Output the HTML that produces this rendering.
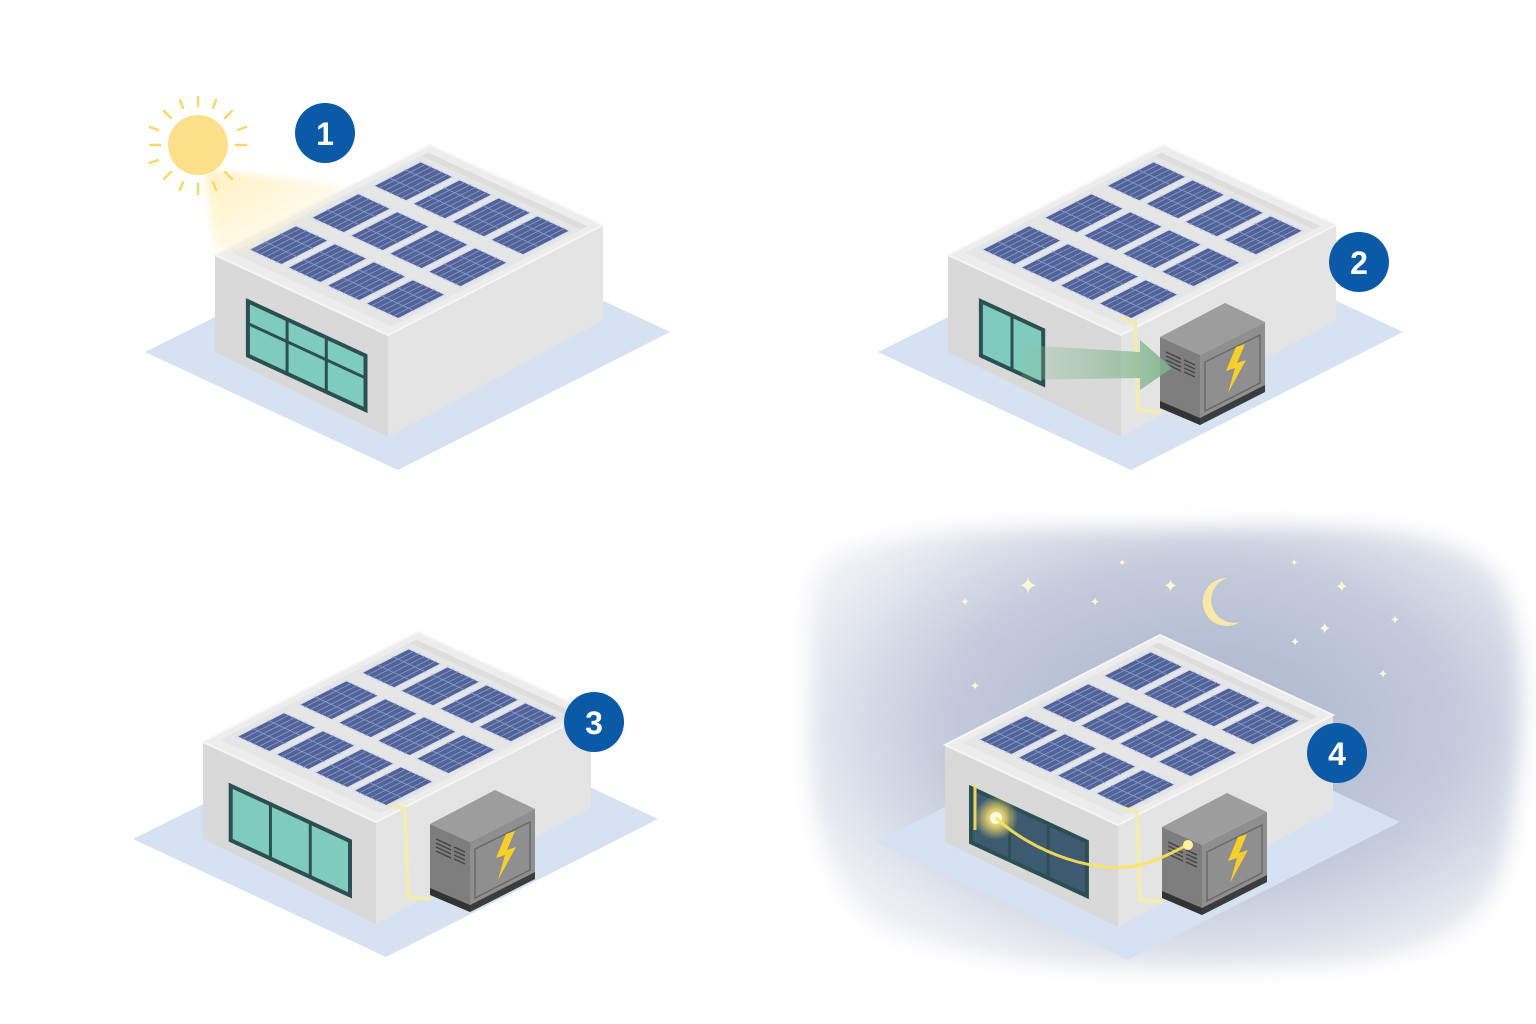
<!DOCTYPE html>
<html><head><meta charset="utf-8"><style>
html,body{margin:0;padding:0;background:#fff;width:1536px;height:1024px;overflow:hidden}
svg{display:block}
</style></head><body>
<svg id="s" width="1536" height="1024" viewBox="0 0 1536 1024" xmlns="http://www.w3.org/2000/svg">
<defs>
<radialGradient id="night" cx="0.55" cy="0.45" r="0.6">
<stop offset="0" stop-color="#a9b3cc"/><stop offset="0.6" stop-color="#c3cadb"/><stop offset="1" stop-color="#eef0f5"/>
</radialGradient>
<filter id="blur" x="-10%" y="-10%" width="120%" height="120%"><feGaussianBlur stdDeviation="10"/></filter>
<filter id="b4"><feGaussianBlur stdDeviation="4"/></filter>
<radialGradient id="glow"><stop offset="0" stop-color="#fff7c0"/><stop offset="0.4" stop-color="#ffe36a" stop-opacity="0.8"/><stop offset="1" stop-color="#ffe36a" stop-opacity="0"/></radialGradient>
<linearGradient id="beam" x1="0" y1="0" x2="1" y2="1"><stop offset="0" stop-color="#ffe9a0" stop-opacity="0.9"/><stop offset="1" stop-color="#fff6d8" stop-opacity="0.2"/></linearGradient>
<linearGradient id="arrow" x1="0" y1="0" x2="1" y2="0"><stop offset="0" stop-color="#8fc19b" stop-opacity="0.2"/><stop offset="1" stop-color="#7fb38c" stop-opacity="0.9"/></linearGradient>
</defs>
<path d="M830,560 C900,520 1050,530 1180,528 C1320,526 1460,520 1500,580 C1535,650 1520,760 1510,830 C1500,920 1440,960 1320,965 C1150,975 980,970 890,930 C820,895 805,800 810,700 C812,640 800,590 830,560Z" fill="url(#night)" filter="url(#blur)"/>
<g id="g"></g>
</svg>
<script>
var g=document.getElementById('g'),out='';
function P(a){return a.map(function(p){return p[0].toFixed(1)+','+p[1].toFixed(1)}).join(' ')}
function poly(a,f,extra){out+='<polygon points="'+P(a)+'" fill="'+f+'" '+(extra||'')+'/>';}
function bld(ox,oy,o){
 function T(x,y){return [x+ox,y+oy]}
 poly([T(145,352),T(420,215),T(670,332),T(398,470)],'#d6e2f1');
 var back=[430,145],U=[173,80],V=[-215,110];
 function R(u,v){return T(back[0]+u*U[0]+v*V[0],back[1]+u*U[1]+v*V[1])}
 poly([T(215,255),T(388,335),T(388,437),T(215,352)],'#d9d9d9');
 poly([T(388,335),T(603,225),T(603,320),T(388,437)],'#e4e4e4');
 poly([R(0,0),R(1,0),R(1,1),R(0,1)],'#ededed','stroke="#f6f6f6" stroke-width="2"');
 poly([R(0.04,0.04),R(0.96,0.04),R(0.96,0.95),R(0.04,0.95)],'#dedede');
 poly([R(0.04,0.07),R(0.96,0.07),R(0.96,0.95),R(0.04,0.95)],'#e6e6e6');
 for(var r=0;r<3;r++){for(var c=0;c<4;c++){
  var v0=0.10+r*0.29,v1=v0+0.22,u0=0.07+c*0.225,u1=u0+0.19;
  poly([R(u0,v0),R(u1,v0),R(u1,v1),R(u0,v1)],'#52639a','stroke="#d8dff0" stroke-width="1.5"');
  for(var i=1;i<6;i++){var u=u0+(u1-u0)*i/6,a=R(u,v0),b=R(u,v1);out+='<line x1="'+a[0]+'" y1="'+a[1]+'" x2="'+b[0]+'" y2="'+b[1]+'" stroke="#8c9cc8" stroke-width="0.8"/>';}
  for(var j=1;j<3;j++){var v=v0+(v1-v0)*j/3,a=R(u0,v),b=R(u1,v);out+='<line x1="'+a[0]+'" y1="'+a[1]+'" x2="'+b[0]+'" y2="'+b[1]+'" stroke="#8c9cc8" stroke-width="0.8"/>';}
 }}
 function W(s,t){return T(215+s*173,255+s*80+t*97)}
 var s0=o.w[0],s1=o.w[1];
 poly([W(s0,0.32),W(s1,0.32),W(s1,0.88),W(s0,0.88)],o.night?'#3d5a70':'#7fcbbd','stroke="#2b4f52" stroke-width="4"');
 var n=o.w[2];
 for(var k=1;k<n;k++){var s=s0+(s1-s0)*k/n,a=W(s,0.32),b=W(s,0.88);out+='<line x1="'+a[0]+'" y1="'+a[1]+'" x2="'+b[0]+'" y2="'+b[1]+'" stroke="#2b4f52" stroke-width="3"/>';}
 if(o.w[3]){var a=W(s0,0.55),b=W(s1,0.55);out+='<line x1="'+a[0]+'" y1="'+a[1]+'" x2="'+b[0]+'" y2="'+b[1]+'" stroke="#2b4f52" stroke-width="3"/>';}
 if(o.bat){
  var bx=o.bat[0],by=o.bat[1];
  function B(x,y){return T(x+bx,y+by)}
  out+='<path d="M'+B(387,318)+' L'+B(402,322)+' L'+B(405,410)+' L'+B(428,412)+'" fill="none" stroke="#f2ecb0" stroke-width="4"/>';
  poly([B(427,337),B(492,303),B(532,322),B(467,355)],'#9d9d9d');
  poly([B(427,337),B(467,355),B(467,425),B(427,408)],'#7e7e7e');
  poly([B(467,355),B(532,322),B(532,392),B(467,425)],'#8f8f8f');
  poly([B(467,418),B(532,385),B(532,392),B(467,425)],'#3c3c3c');
  poly([B(427,401),B(467,418),B(467,425),B(427,408)],'#333');
  poly([B(472,362),B(527,335),B(527,383),B(472,411)],'none','stroke="#6a6a6a" stroke-width="1.5"');
  for(var q=0;q<4;q++){var a=B(433,352+q*4),b=B(448,359+q*4);out+='<line x1="'+a[0]+'" y1="'+a[1]+'" x2="'+b[0]+'" y2="'+b[1]+'" stroke="#444" stroke-width="1.5"/>';a=B(451,360+q*4);b=B(462,365+q*4);out+='<line x1="'+a[0]+'" y1="'+a[1]+'" x2="'+b[0]+'" y2="'+b[1]+'" stroke="#444" stroke-width="1.5"/>';}
  poly([B(503,347),B(493,371),B(502,368),B(495,393),B(513,360),B(504,363),B(512,344)],'#f6cf2a');
 }
}
bld(0,0,{w:[0.19,0.87,3,true]});
bld(733,0,{w:[0.19,0.55,2,false],bat:[0,0]});
bld(-12,487,{w:[0.16,0.85,3,false],bat:[15,0]});
bld(730,490,{w:[0.15,0.82,3,false],bat:[5,0],night:true});
g.innerHTML=out;
</script>
<svg width="1536" height="1024" style="position:absolute;left:0;top:0" xmlns="http://www.w3.org/2000/svg">
<polygon points="205,170 340,185 330,200 250,250 215,250" fill="url(#beam)" filter="url(#b4)" opacity="0.8"/>
<circle cx="198" cy="145" r="30" fill="#fbe089"/>
<g stroke="#f8d86a" stroke-width="2.5" stroke-linecap="round">
<line x1="198" y1="97" x2="198" y2="106"/><line x1="198" y1="184" x2="198" y2="194"/>
<line x1="150" y1="145" x2="160" y2="145"/><line x1="236" y1="145" x2="246" y2="145"/>
<line x1="164" y1="111" x2="171" y2="118"/><line x1="225" y1="172" x2="232" y2="179"/>
<line x1="164" y1="179" x2="171" y2="172"/><line x1="225" y1="118" x2="232" y2="111"/>
<line x1="180" y1="100" x2="183" y2="108"/><line x1="213" y1="182" x2="216" y2="190"/>
<line x1="216" y1="100" x2="213" y2="108"/><line x1="150" y1="127" x2="158" y2="130"/>
<line x1="150" y1="163" x2="158" y2="160"/><line x1="238" y1="130" x2="246" y2="127"/>
<line x1="183" y1="182" x2="180" y2="190"/>
</g>
<polygon points="1022,345 1140,352 1140,340 1172,368 1140,390 1140,378 1022,380" fill="url(#arrow)"/>
<path d="M1228,578 A24,24 0 1,0 1240,622 A20,20 0 1,1 1228,578Z" fill="#fbe8a8"/>
<g fill="#fff8d8" font-family="DejaVu Sans">
<text x="1018" y="594" font-size="24">✦</text>
<text x="1163" y="592" font-size="18">✦</text>
<text x="1335" y="592" font-size="16">✦</text>
<text x="1318" y="634" font-size="16">✦</text>
<text x="1390" y="624" font-size="12">✦</text>
<text x="960" y="606" font-size="12">✦</text>
<text x="1090" y="606" font-size="12">✦</text>
<text x="970" y="690" font-size="12">✦</text>
<text x="1290" y="646" font-size="12">✦</text>
<text x="1378" y="678" font-size="12">✦</text>
<text x="1118" y="566" font-size="10">✦</text>
<text x="1290" y="566" font-size="10">✦</text>
</g>
<circle cx="996" cy="818" r="22" fill="url(#glow)"/>
<circle cx="996" cy="818" r="6" fill="#fffbe0"/>
<path d="M975,830 L975,785 M996,818 C1030,850 1100,880 1150,862 C1170,855 1180,848 1188,845" fill="none" stroke="#ffe25a" stroke-width="3" opacity="0.9"/>
<circle cx="1188" cy="845" r="5" fill="#fff3a0"/>
<g font-family="Liberation Sans, sans-serif" font-weight="bold" font-size="32" fill="#fff" text-anchor="middle">
<circle cx="325" cy="133" r="30" fill="#0a5aa8"/><text x="325" y="145">1</text>
<circle cx="1359" cy="262" r="30" fill="#0a5aa8"/><text x="1359" y="274">2</text>
<circle cx="594" cy="722" r="30" fill="#0a5aa8"/><text x="594" y="734">3</text>
<circle cx="1337" cy="753" r="30" fill="#0a5aa8"/><text x="1337" y="765">4</text>
</g>
</svg>
</body></html>
